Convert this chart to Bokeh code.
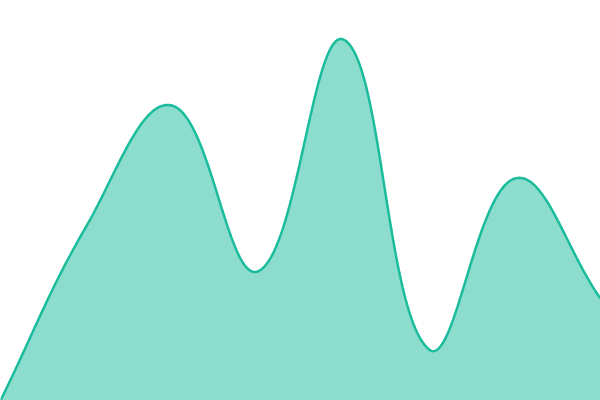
import numpy as np
from bokeh.plotting import figure
from bokeh.models import Range1d
from bokeh.embed import file_html
from bokeh.resources import INLINE

# data
x_idx = [0, 1, 2, 3, 4, 5, 6, 7]
values = [0, 174, 295, 129, 361, 51, 222, 102]

W, H = 600, 400
X_MAX, Y_MAX = 7, 400
TENSION = 0.4

p = figure(width=W, height=H, output_backend="svg", toolbar_location=None,
           x_range=Range1d(0, X_MAX), y_range=Range1d(0, Y_MAX), min_border=0)
p.axis.visible = False
p.grid.visible = False
p.outline_line_color = None
p.background_fill_color = "white"
p.border_fill_color = "white"

# cardinal spline (Chart.js style) computed in pixel space
px = np.array(x_idx, float) * W / X_MAX
py = np.array(values, float) * H / Y_MAX
n = len(px)
cp1 = np.zeros((n, 2)); cp2 = np.zeros((n, 2))
for i in range(n):
    prev = (px[max(i - 1, 0)], py[max(i - 1, 0)])
    cur = (px[i], py[i])
    nxt = (px[min(i + 1, n - 1)], py[min(i + 1, n - 1)])
    d01 = np.hypot(cur[0] - prev[0], cur[1] - prev[1])
    d12 = np.hypot(nxt[0] - cur[0], nxt[1] - cur[1])
    s = d01 + d12
    s01 = d01 / s if s else 0
    s12 = d12 / s if s else 0
    fa, fb = TENSION * s01, TENSION * s12
    cp1[i] = (cur[0] - fa * (nxt[0] - prev[0]), cur[1] - fa * (nxt[1] - prev[1]))
    cp2[i] = (cur[0] + fb * (nxt[0] - prev[0]), cur[1] + fb * (nxt[1] - prev[1]))
cp1[:, 0] = np.clip(cp1[:, 0], 0, W); cp1[:, 1] = np.clip(cp1[:, 1], 0, H)
cp2[:, 0] = np.clip(cp2[:, 0], 0, W); cp2[:, 1] = np.clip(cp2[:, 1], 0, H)

xs, ys = [], []
t = np.linspace(0, 1, 60)
for i in range(n - 1):
    P0 = np.array([px[i], py[i]]); P1 = cp2[i]; P2 = cp1[i + 1]; P3 = np.array([px[i + 1], py[i + 1]])
    tt = t if i == 0 else t[1:]
    pts = ((1 - tt) ** 3)[:, None] * P0 + (3 * (1 - tt) ** 2 * tt)[:, None] * P1 \
        + (3 * (1 - tt) * tt ** 2)[:, None] * P2 + (tt ** 3)[:, None] * P3
    xs.extend(pts[:, 0] * X_MAX / W)
    ys.extend(pts[:, 1] * Y_MAX / H)

p.varea(x=xs, y1=[0] * len(xs), y2=ys, fill_color="#1abc9c", fill_alpha=0.5)
p.line(x=xs, y=ys, line_color="#1abc9c", line_width=2.5)

open("out.html", "w").write(file_html(p, INLINE))
